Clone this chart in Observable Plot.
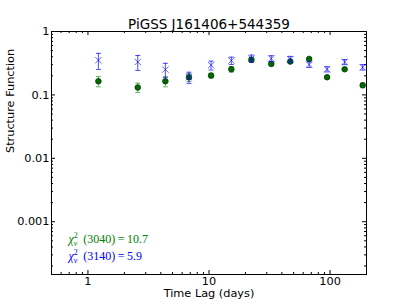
<!DOCTYPE html>
<html><head><meta charset="utf-8">
<script src="https://cdn.jsdelivr.net/npm/d3@7"></script>
<script src="https://cdn.jsdelivr.net/npm/@observablehq/plot@0.6"></script>
<style>
body{margin:0;background:#fff}
#chart svg{font-family:"DejaVu Sans",sans-serif;background:#fff}
</style>
</head><body><div id="chart"></div>
<script>
const title = "PiGSS J161406+544359";
const xLabel = "Time Lag (days)";
const yLabel = "Structure Function";
const lags = [1.22, 2.58, 4.36, 6.83, 10.4, 15.3, 22.4, 32.7, 46.9, 67.2, 94.5, 132, 186];
const sf3040 = [0.164, 0.131, 0.164, 0.19, 0.202, 0.254, 0.36, 0.308, 0.336, 0.369, 0.19, 0.254, 0.142];
const err3040 = [0.03, 0.022, 0.03, 0.027, 0.017, 0.025, 0.02, 0.015, 0.015, 0.012, 0.008, 0.01, 0.012];
const sf3140 = [0.352, 0.331, 0.251, 0.19, 0.294, 0.348, 0.375, 0.375, 0.365, 0.301, 0.254, 0.331, 0.273];
const err3140 = [0.1, 0.088, 0.064, 0.038, 0.047, 0.046, 0.05, 0.04, 0.04, 0.03, 0.024, 0.03, 0.027];
const chiLabels = ["3040", "3140"];
const chiValues = ["10.7", "5.9"];
const xMajor = [1, 10, 100];
const xMajorLabels = ["1", "10", "100"];
const xMinor = [0.5, 0.6, 0.7, 0.8, 0.9, 2, 3, 4, 5, 6, 7, 8, 9, 20, 30, 40, 50, 60, 70, 80, 90, 200];
const yMajor = [0.001, 0.01, 0.1, 1];
const yMajorLabels = ["0.001", "0.01", "0.1", "1"];
const yMinor = [2e-4, 3e-4, 4e-4, 5e-4, 6e-4, 7e-4, 8e-4, 9e-4,
  2e-3, 3e-3, 4e-3, 5e-3, 6e-3, 7e-3, 8e-3, 9e-3,
  0.02, 0.03, 0.04, 0.05, 0.06, 0.07, 0.08, 0.09,
  0.2, 0.3, 0.4, 0.5, 0.6, 0.7, 0.8, 0.9];

const W = 407, H = 305, mL = 51, mR = 41, mT = 31, mB = 31;
const innerW = W - mL - mR, innerH = H - mT - mB;
const MAJ = 4, MIN = 2;

const green = lags.map((x, i) => ({x, y: sf3040[i], lo: sf3040[i] - err3040[i], hi: sf3040[i] + err3040[i]}));
const blue = lags.map((x, i) => ({x, y: sf3140[i], lo: sf3140[i] - err3140[i], hi: sf3140[i] + err3140[i]}));
const xTicks = xMajor.map((v, i) => ({v, t: xMajorLabels[i]}));
const yTicks = yMajor.map((v, i) => ({v, t: yMajorLabels[i]}));

const cap = {draw(ctx, size) { const w = Math.sqrt(size / Math.PI); ctx.moveTo(-w, 0); ctx.lineTo(w, 0); }};

function errMarks(data, color, op) {
  return [
    Plot.ruleX(data, {x: "x", y1: "lo", y2: "hi", stroke: color, strokeOpacity: op, strokeWidth: 1}),
    Plot.dot(data, {x: "x", y: "lo", symbol: cap, r: 2.5, stroke: color, strokeOpacity: op, strokeWidth: 1, fill: "none"}),
    Plot.dot(data, {x: "x", y: "hi", symbol: cap, r: 2.5, stroke: color, strokeOpacity: op, strokeWidth: 1, fill: "none"})
  ];
}

function chiMark(i, color, dy) {
  return Plot.text(["χ2ν (" + chiLabels[i] + ")=" + chiValues[i]], {
    text: d => d, fill: color, frameAnchor: "bottom-left", textAnchor: "start",
    dx: 17, dy, fontFamily: "Liberation Serif, serif", fontSize: 12
  });
}

const plot = Plot.plot({
  width: W, height: H,
  marginLeft: mL, marginRight: mR, marginTop: mT, marginBottom: mB,
  x: {type: "log", domain: [0.5, 200], axis: null},
  y: {type: "log", domain: [1.47e-4, 1], axis: null},
  style: {fontSize: "11.3px", fontFamily: "DejaVu Sans, sans-serif", color: "black"},
  marks: [
    // ticks (inward, all sides)
    Plot.ruleX(xMajor, {x: d => d, insetTop: innerH - MAJ, stroke: "black"}),
    Plot.ruleX(xMajor, {x: d => d, insetBottom: innerH - MAJ, stroke: "black"}),
    Plot.ruleX(xMinor, {x: d => d, insetTop: innerH - MIN, stroke: "black"}),
    Plot.ruleX(xMinor, {x: d => d, insetBottom: innerH - MIN, stroke: "black"}),
    Plot.ruleY(yMajor, {y: d => d, insetRight: innerW - MAJ, stroke: "black"}),
    Plot.ruleY(yMajor, {y: d => d, insetLeft: innerW - MAJ, stroke: "black"}),
    Plot.ruleY(yMinor, {y: d => d, insetRight: innerW - MIN, stroke: "black"}),
    Plot.ruleY(yMinor, {y: d => d, insetLeft: innerW - MIN, stroke: "black"}),
    // tick labels
    Plot.text(xTicks, {x: "v", text: "t", frameAnchor: "bottom", lineAnchor: "top", dy: 2, fill: "black"}),
    Plot.text(yTicks, {y: "v", text: "t", frameAnchor: "left", textAnchor: "end", dx: -2, fill: "black"}),
    // data
    ...errMarks(green, "#008000", 0.6),
    Plot.dot(green, {x: "x", y: "y", r: 2.8, fill: "#006a00", stroke: "#003a00", strokeWidth: 0.8}),
    ...errMarks(blue, "#0000ff", 0.7),
    Plot.dot(blue, {x: "x", y: "y", symbol: "times", r: 3, stroke: "#0000ff", strokeOpacity: 0.6, strokeWidth: 1}),
    Plot.frame({stroke: "black", strokeWidth: 1}),
    // texts
    Plot.text([title], {text: d => d, frameAnchor: "top", dy: -12, fontSize: 13.5}),
    Plot.text([xLabel], {text: d => d, frameAnchor: "bottom", dy: 22.5}),
    Plot.text([yLabel], {text: d => d, frameAnchor: "left", dx: -41, rotate: -90}),
    chiMark(0, "#008000", -32),
    chiMark(1, "#0000ff", -15)
  ]
});

// render the chi-squared labels as math-like text
d3.select(plot).selectAll("text").each(function() {
  const s = this.textContent;
  if (!s.startsWith("χ2ν")) return;
  const rest = s.slice(3);
  const t = d3.select(this);
  t.text(null);
  t.append("tspan").attr("font-style", "italic").text("χ");
  t.append("tspan").attr("font-size", 8).attr("dy", -5).text("2");
  t.append("tspan").attr("font-size", 8).attr("font-style", "italic").attr("dx", -4).attr("dy", 8).text("ν");
  t.append("tspan").attr("dy", -3).attr("dx", 3).text(rest.replace("=", "\u2009=\u2009"));
});

document.getElementById("chart").append(plot);
</script>
</body></html>
